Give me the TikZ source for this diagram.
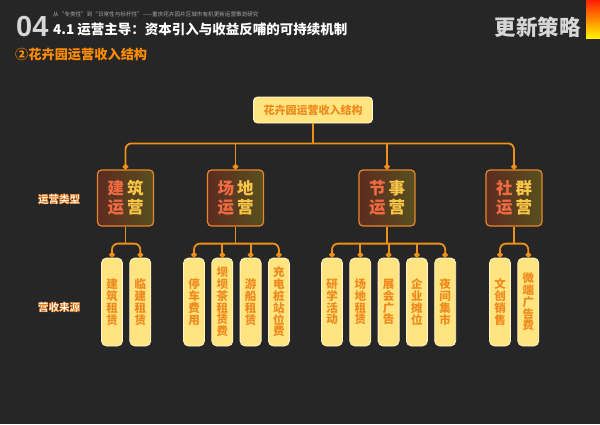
\documentclass[tikz,border=0pt]{standalone}
\usepackage{fontspec}
\setmainfont{Noto Sans CJK SC}
\newfontfamily\numfont{Liberation Sans}
\usepackage{xcolor}
\usetikzlibrary{arrows.meta, positioning, calc}
\definecolor{bgdark}{HTML}{262626}
\definecolor{linkorange}{HTML}{EE8F1A}
\definecolor{textorange}{HTML}{EE8A1E}
\definecolor{paleyellow}{HTML}{FFE47F}
\definecolor{redchar}{HTML}{F26A42}
\definecolor{yellowchar}{HTML}{F8C646}
\definecolor{headgray}{HTML}{D6D6D6}
\definecolor{boxleft}{HTML}{5C2B20}
\definecolor{boxright}{HTML}{58501F}
\definecolor{boxedge}{HTML}{E8862C}
% white letters with an orange outline
\newcommand{\outlined}[1]{\special{pdf:literal direct 2 Tr 0.45 w 0.93 0.5 0.12 RG}#1\special{pdf:literal direct 0 Tr}}

\begin{document}
\begin{tikzpicture}[
    x=1pt, y=1pt,
    mainbox/.style={rectangle, rounded corners=4pt, draw=white!70!paleyellow, fill=paleyellow,
                    line width=0.8pt, minimum width=119pt, minimum height=26pt,
                    font=\fontsize{11}{12}\selectfont\bfseries, text=textorange},
    typebox/.style={rectangle, rounded corners=4pt, draw=boxedge, line width=1.2pt,
                    left color=boxleft, right color=boxright,
                    minimum width=56pt, minimum height=56pt, inner sep=0pt, align=center,
                    font=\fontsize{16.5}{19}\selectfont\bfseries},
    incomebox/.style={rectangle, rounded corners=5pt, draw=white!60!paleyellow, fill=paleyellow,
                      line width=0.8pt, minimum width=21pt, minimum height=88pt, inner sep=0pt,
                      align=center, text=textorange, font=\fontsize{11.5}{11.8}\selectfont\bfseries},
    link/.style={draw=linkorange, line width=1.8pt},
    dot/.style={-{Circle[length=5.5pt]}},
    dots/.style={{Circle[length=5.5pt]}-{Circle[length=5.5pt]}},
    sidelabel/.style={text=white, font=\fontsize{10.5}{12}\selectfont\bfseries},
]
\useasboundingbox (0,0) rectangle (600,-424);
\fill[bgdark] (0,0) rectangle (600,-424);

% header
\node[anchor=west, inner sep=0pt, text=headgray, font=\numfont\fontsize{29}{29}\selectfont\bfseries] (num) at (16,-27) {04};
\node[anchor=south west, inner sep=0pt, text=gray!70, font=\fontsize{5.6}{6}\selectfont] (crumb) at (53,-17) {从“专类性”到“日常性与标杆性”——重庆花卉园片区城市有机更新运营策划研究};
\node[anchor=west, inner sep=0pt, text=white, font=\fontsize{13.5}{14}\selectfont\bfseries] (title) at (53,-29.5) {4.1 运营主导：资本引入与收益反哺的可持续机制};
\node[anchor=west, inner sep=0pt, text=orange!90!yellow, font=\fontsize{13.2}{14}\selectfont\bfseries] (subtitle) at (15,-55) {②花卉园运营收入结构};
\node[anchor=east, inner sep=0pt, text=headgray, font=\fontsize{21.5}{22}\selectfont\bfseries] (chapter) at (581,-27) {更新策略};
\shade[top color=red!75!orange, bottom color=yellow!90!orange] (586,0) rectangle (600,-38);

% root
\node[mainbox] (root) at (313,-110) {花卉园运营收入结构};

% operation types
\node[typebox] (c1) at (125.5,-198) {\textcolor{redchar}{建}\hspace{3pt}\textcolor{yellowchar}{筑}\\\textcolor{redchar}{运}\hspace{3pt}\textcolor{yellowchar}{营}};
\node[typebox] (c2) at (235.5,-198) {\textcolor{redchar}{场}\hspace{3pt}\textcolor{yellowchar}{地}\\\textcolor{redchar}{运}\hspace{3pt}\textcolor{yellowchar}{营}};
\node[typebox] (c3) at (387,-198) {\textcolor{redchar}{节}\hspace{3pt}\textcolor{yellowchar}{事}\\\textcolor{redchar}{运}\hspace{3pt}\textcolor{yellowchar}{营}};
\node[typebox] (c4) at (514,-198) {\textcolor{redchar}{社}\hspace{3pt}\textcolor{yellowchar}{群}\\\textcolor{redchar}{运}\hspace{3pt}\textcolor{yellowchar}{营}};

% income sources
\node[incomebox] (r11) at (112,-302) {建\\筑\\租\\赁};
\node[incomebox, right=6.5pt of r11] (r12) {临\\建\\租\\赁};

\node[incomebox] (r21) at (194,-302) {停\\车\\费\\用};
\node[incomebox, right=6.5pt of r21] (r22) {坝\\坝\\茶\\租\\赁\\费};
\node[incomebox, right=6.5pt of r22] (r23) {游\\船\\租\\赁};
\node[incomebox, right=6.5pt of r23] (r24) {充\\电\\桩\\站\\位\\费};

\node[incomebox] (r31) at (332,-302) {研\\学\\活\\动};
\node[incomebox, right=6.5pt of r31] (r32) {场\\地\\租\\赁};
\node[incomebox, right=6.5pt of r32] (r33) {展\\会\\广\\告};
\node[incomebox, right=6.5pt of r33] (r34) {企\\业\\摊\\位};
\node[incomebox, right=6.5pt of r34] (r35) {夜\\间\\集\\市};

\node[incomebox] (r41) at (500,-302) {文\\创\\销\\售};
\node[incomebox, right=6.5pt of r41] (r42) {微\\端\\广\\告\\费};

% side labels
\node[sidelabel] (typelabel) at (59,-199) {\outlined{运营类型}};
\node[sidelabel] (incomelabel) at (59,-307) {\outlined{营收来源}};

% root to types
\coordinate (j0) at ($(root.south)+(0,-20)$);
\draw[link] (root.south) -- (j0);
\draw[link, dots, rounded corners=6pt] (c1.north) |- (j0) -| (c4.north);
\draw[link, dot] (j0 -| c2.north) -- (c2.north);
\draw[link, dot] (j0 -| c3.north) -- (c3.north);

% types to income sources
\coordinate (g1) at ($(c1.south)+(0,-17)$);
\draw[link] (c1.south) -- (g1);
\draw[link, dots, rounded corners=6pt] (r11.north) |- (g1) -| (r12.north);

\coordinate (g2) at ($(c2.south)+(0,-17)$);
\draw[link] (c2.south) -- (g2);
\draw[link, dots, rounded corners=6pt] (r21.north) |- (g2) -| (r24.north);
\draw[link, dot] (g2 -| r22.north) -- (r22.north);
\draw[link, dot] (g2 -| r23.north) -- (r23.north);

\coordinate (g3) at ($(c3.south)+(0,-17)$);
\draw[link] (c3.south) -- (g3);
\draw[link, dots, rounded corners=6pt] (r31.north) |- (g3) -| (r35.north);
\draw[link, dot] (g3 -| r32.north) -- (r32.north);
\draw[link, dot] (g3 -| r33.north) -- (r33.north);
\draw[link, dot] (g3 -| r34.north) -- (r34.north);

\coordinate (g4) at ($(c4.south)+(0,-17)$);
\draw[link] (c4.south) -- (g4);
\draw[link, dots, rounded corners=6pt] (r41.north) |- (g4) -| (r42.north);

\end{tikzpicture}
\end{document}
